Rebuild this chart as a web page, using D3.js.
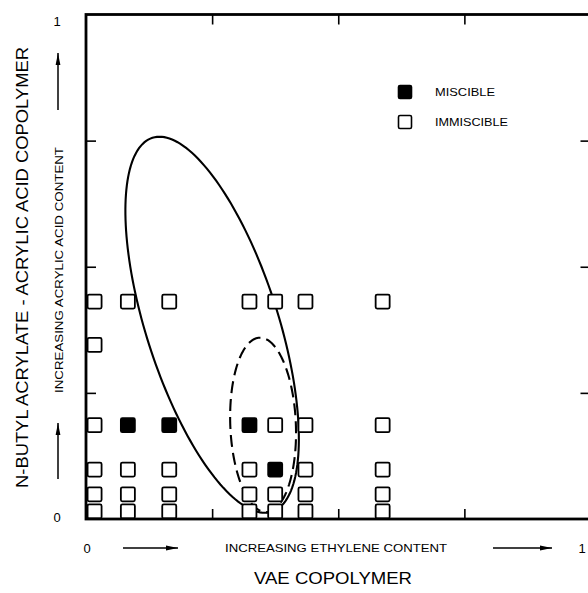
<!DOCTYPE html>
<html>
<head>
<meta charset="utf-8">
<script src="https://cdn.jsdelivr.net/npm/d3@7"></script>
<style>
  html, body { margin: 0; padding: 0; background: #fff; }
  svg { display: block; }
  text { font-family: "Liberation Sans", Arial, Helvetica, sans-serif; fill: #000; }
</style>
</head>
<body>
<svg id="chart" width="588" height="593"></svg>
<script>
// ---------------- data ----------------
// ethylene content (x) levels of the VAE copolymers, fraction of axis
const ethyleneLevels = [0.017, 0.083, 0.165, 0.324, 0.375, 0.435, 0.588];
// acrylic acid content (y) levels of the n-BA/AA copolymers
const acidLevels = [0.431, 0.345, 0.186, 0.098, 0.049, 0.015];

// miscible blends (filled squares)
const miscibleX = [0.083, 0.165, 0.324, 0.375];
const miscibleY = [0.186, 0.186, 0.186, 0.098];

// immiscible blends (open squares)
const immiscibleX = [
  0.017, 0.083, 0.165, 0.324, 0.375, 0.435, 0.588,
  0.017,
  0.017, 0.375, 0.435, 0.588,
  0.017, 0.083, 0.165, 0.324, 0.435, 0.588,
  0.017, 0.083, 0.165, 0.324, 0.375, 0.435, 0.588,
  0.017, 0.083, 0.165, 0.324, 0.375, 0.435, 0.588
];
const immiscibleY = [
  0.431, 0.431, 0.431, 0.431, 0.431, 0.431, 0.431,
  0.345,
  0.186, 0.186, 0.186, 0.186,
  0.098, 0.098, 0.098, 0.098, 0.098, 0.098,
  0.049, 0.049, 0.049, 0.049, 0.049, 0.049, 0.049,
  0.015, 0.015, 0.015, 0.015, 0.015, 0.015, 0.015
];

// miscibility-window ellipses: centre x, centre y, semi-major, semi-minor, angle (deg)
const ellipseNames = ["outer", "inner"];
const ellipseCx = [0.250, 0.351];
const ellipseCy = [0.385, 0.1865];
const ellipseA  = [0.389, 0.173];
const ellipseB  = [0.131, 0.065];
const ellipseAngle = [107.7, 92.3];

const tickValues = [0.25, 0.5, 0.75];
const legendLabels = ["MISCIBLE", "IMMISCIBLE"];

// ---------------- layout ----------------
const svg = d3.select("#chart");
const x = d3.scaleLinear().domain([0, 1]).range([86, 590.5]);
const y = d3.scaleLinear().domain([0, 1]).range([519, 14.5]);

// ellipses
ellipseNames.forEach((name, i) => {
  const th = ellipseAngle[i] * Math.PI / 180;
  const pts = d3.range(0, 361, 2).map(d => {
    const t = d * Math.PI / 180;
    const ex = ellipseA[i] * Math.cos(t), ey = ellipseB[i] * Math.sin(t);
    return [ellipseCx[i] + ex * Math.cos(th) - ey * Math.sin(th),
            ellipseCy[i] + ex * Math.sin(th) + ey * Math.cos(th)];
  });
  svg.append("path")
    .attr("d", d3.line().x(p => x(p[0])).y(p => y(p[1])).curve(d3.curveLinearClosed)(pts))
    .attr("fill", "none")
    .attr("stroke", "#000")
    .attr("stroke-width", 2.1)
    .attr("stroke-dasharray", name === "inner" ? "12,6" : null);
});

// markers
const S = 14;
svg.append("g").selectAll("rect").data(immiscibleX.map((v, i) => [v, immiscibleY[i]]))
  .join("rect")
  .attr("x", d => x(d[0]) - S / 2).attr("y", d => y(d[1]) - S / 2)
  .attr("width", S).attr("height", S).attr("rx", 1.5)
  .attr("fill", "#fff").attr("stroke", "#000").attr("stroke-width", 1.8);
svg.append("g").selectAll("rect").data(miscibleX.map((v, i) => [v, miscibleY[i]]))
  .join("rect")
  .attr("x", d => x(d[0]) - S / 2).attr("y", d => y(d[1]) - S / 2)
  .attr("width", S).attr("height", S).attr("rx", 1.5)
  .attr("fill", "#000").attr("stroke", "#000").attr("stroke-width", 1.8);

// axes with inward ticks
const noLab = () => "";
svg.append("g").attr("transform", `translate(${x(0)},0)`)
  .call(d3.axisLeft(y).tickValues(tickValues).tickSize(-10).tickFormat(noLab));
svg.append("g").attr("transform", `translate(${x(1)},0)`)
  .call(d3.axisRight(y).tickValues(tickValues).tickSize(-10).tickFormat(noLab));
svg.append("g").attr("transform", `translate(0,${y(0)})`)
  .call(d3.axisBottom(x).tickValues(tickValues).tickSize(-10).tickFormat(noLab));
svg.append("g").attr("transform", `translate(0,${y(1)})`)
  .call(d3.axisTop(x).tickValues(tickValues).tickSize(-10).tickFormat(noLab));
svg.selectAll(".domain").remove();
svg.selectAll(".tick line").attr("stroke", "#000").attr("stroke-width", 1.6);

// frame
svg.append("rect")
  .attr("x", x(0)).attr("y", y(1))
  .attr("width", x(1) - x(0)).attr("height", y(0) - y(1))
  .attr("fill", "none").attr("stroke", "#000").attr("stroke-width", 2.8);

// end labels
svg.append("text").attr("x", 57).attr("y", y(1) + 11).attr("text-anchor", "middle")
  .attr("font-size", 13).text("1");
svg.append("text").attr("x", 57).attr("y", y(0) + 3).attr("text-anchor", "middle")
  .attr("font-size", 13).text("0");
svg.append("text").attr("x", x(0) + 1).attr("y", 553).attr("text-anchor", "middle")
  .attr("font-size", 13).text("0");
svg.append("text").attr("x", 582).attr("y", 553).attr("text-anchor", "middle")
  .attr("font-size", 13).text("1");

// arrow marker
const defs = svg.append("defs");
defs.append("marker").attr("id", "ah")
  .attr("viewBox", "0 0 12 6").attr("refX", 12).attr("refY", 3)
  .attr("markerWidth", 12).attr("markerHeight", 6)
  .attr("markerUnits", "userSpaceOnUse").attr("orient", "auto")
  .append("path").attr("d", "M0,0.6 L12,3 L0,5.4 Z").attr("fill", "#000");

function arrow(x1, y1, x2, y2) {
  svg.append("line").attr("x1", x1).attr("y1", y1).attr("x2", x2).attr("y2", y2)
    .attr("stroke", "#000").attr("stroke-width", 1.5).attr("marker-end", "url(#ah)");
}
arrow(123, 548, 178, 548);
arrow(493, 548, 552, 548);
arrow(58, 110, 58, 53);
arrow(58, 479, 58, 423);

// axis titles
svg.append("text").attr("x", 225).attr("y", 552)
  .attr("font-size", 11.5).attr("textLength", 222).attr("lengthAdjust", "spacingAndGlyphs")
  .text("INCREASING ETHYLENE CONTENT");
svg.append("text").attr("x", 254).attr("y", 584)
  .attr("font-size", 16).attr("textLength", 158).attr("lengthAdjust", "spacingAndGlyphs")
  .text("VAE COPOLYMER");
svg.append("text").attr("transform", "translate(63,393) rotate(-90)")
  .attr("font-size", 11.5).attr("textLength", 246).attr("lengthAdjust", "spacingAndGlyphs")
  .text("INCREASING ACRYLIC ACID CONTENT");
svg.append("text").attr("transform", "translate(28,488) rotate(-90)")
  .attr("font-size", 17).attr("textLength", 441).attr("lengthAdjust", "spacingAndGlyphs")
  .text("N-BUTYL ACRYLATE - ACRYLIC ACID COPOLYMER");

// legend
const lg = svg.append("g");
legendLabels.forEach((lab, i) => {
  const cy = 92 + i * 30;
  lg.append("rect").attr("x", 405 - 6.5).attr("y", cy - 6.5).attr("width", 13).attr("height", 13)
    .attr("rx", 1.5)
    .attr("fill", i === 0 ? "#000" : "#fff").attr("stroke", "#000").attr("stroke-width", 1.6);
  lg.append("text").attr("x", 435).attr("y", cy + 4)
    .attr("font-size", 11).attr("textLength", i === 0 ? 60 : 73).attr("lengthAdjust", "spacingAndGlyphs")
    .text(lab);
});
</script>
</body>
</html>
